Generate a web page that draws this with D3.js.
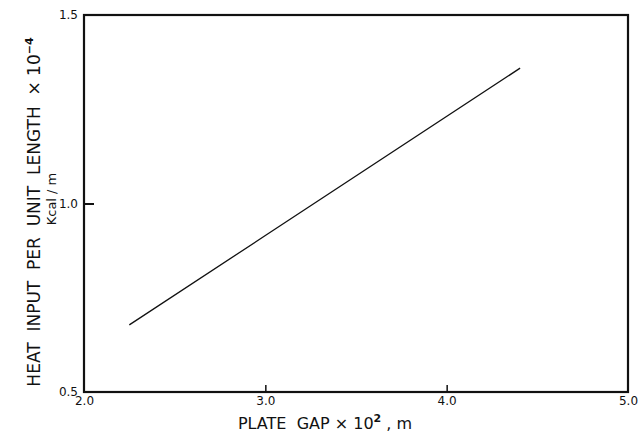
<!DOCTYPE html>
<html>
<head>
<meta charset="utf-8">
<script src="https://cdn.jsdelivr.net/npm/d3@7"></script>
<style>
  body { margin: 0; background: #fff; }
  text { font-family: "DejaVu Sans", sans-serif; fill: #111; white-space: pre; }
</style>
</head>
<body>
<svg id="chart"></svg>
<script>
// Dati
const plateGap = [2.25, 3.0, 4.405];        // x 10^2 m
const heatInput = [0.678, 0.915, 1.359];    // x 10^-4 Kcal/m
const xTicks = [2.0, 3.0, 4.0, 5.0];
const yTicks = [0.5, 1.0, 1.5];

const width = 640, height = 442;
const margin = { top: 15, right: 12, bottom: 50, left: 84 };

const svg = d3.select('#chart')
  .attr('width', width)
  .attr('height', height);

const x = d3.scaleLinear()
  .domain([2.0, 5.0])
  .range([margin.left, width - margin.right]);

const y = d3.scaleLinear()
  .domain([0.5, 1.5])
  .range([height - margin.bottom, margin.top]);

// Cornice
svg.append('rect')
  .attr('x', x(2.0)).attr('y', y(1.5))
  .attr('width', x(5.0) - x(2.0))
  .attr('height', y(0.5) - y(1.5))
  .attr('fill', 'none')
  .attr('stroke', '#111')
  .attr('stroke-width', 2.2);

// Asse x: tacche verso l'interno
const xAxis = svg.append('g')
  .attr('transform', `translate(0,${y(0.5)})`)
  .call(d3.axisBottom(x).tickValues(xTicks).tickSize(-7).tickPadding(11).tickFormat(d3.format('.1f')));
xAxis.select('.domain').remove();
xAxis.selectAll('.tick line').attr('stroke', '#111').attr('stroke-width', 1.5)
  .filter(d => d === 2.0 || d === 5.0).remove();
xAxis.selectAll('.tick text').attr('font-size', 12).attr('dy', '0.2em');

// Asse y
const yAxis = svg.append('g')
  .attr('transform', `translate(${x(2.0)},0)`)
  .call(d3.axisLeft(y).tickValues(yTicks).tickSize(-10).tickPadding(6).tickFormat(d3.format('.1f')));
yAxis.select('.domain').remove();
yAxis.selectAll('.tick line').attr('stroke', '#111').attr('stroke-width', 2)
  .filter(d => d !== 1.0).remove();
yAxis.selectAll('.tick text').attr('font-size', 12);

// Linea
const line = d3.line()
  .x((d, i) => x(plateGap[i]))
  .y(d => y(d));

svg.append('path')
  .datum(heatInput)
  .attr('d', line)
  .attr('fill', 'none')
  .attr('stroke', '#111')
  .attr('stroke-width', 1.3);

// Titoli degli assi
const xTitle = svg.append('text')
  .attr('x', 325).attr('y', 429)
  .attr('text-anchor', 'middle')
  .attr('font-size', 16);
xTitle.append('tspan').text('PLATE  GAP × 10');
xTitle.append('tspan').attr('dy', -7).attr('font-size', 11).attr('font-weight', 'bold').text('2');
xTitle.append('tspan').attr('dy', 7).text(' , m');

const yTitle = svg.append('text')
  .attr('transform', 'translate(40,212) rotate(-90)')
  .attr('text-anchor', 'middle')
  .attr('font-size', 17);
yTitle.append('tspan').text('HEAT  INPUT  PER  UNIT  LENGTH  × 10');
yTitle.append('tspan').attr('dy', -7).attr('font-size', 11).attr('font-weight', 'bold').text('−4');

svg.append('text')
  .attr('transform', 'translate(56,199) rotate(-90)')
  .attr('text-anchor', 'middle')
  .attr('font-size', 13)
  .text('Kcal / m');
</script>
</body>
</html>
